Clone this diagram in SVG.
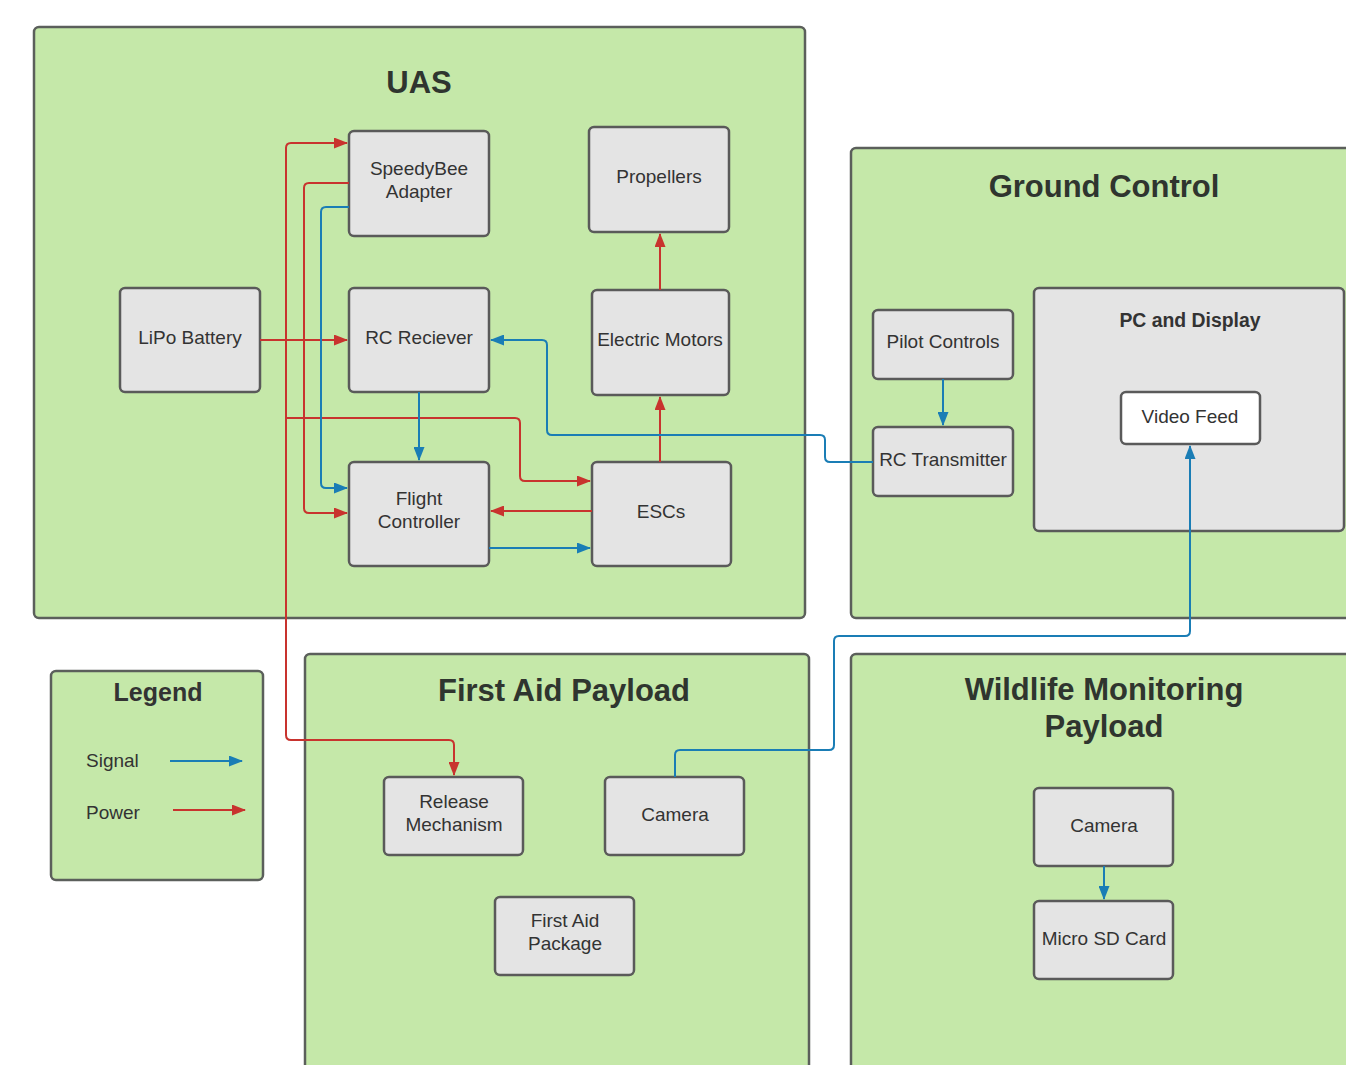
<svg xmlns="http://www.w3.org/2000/svg" width="1346" height="1065" viewBox="0 0 1346 1065">
<defs>
<style>
.grp{fill:#c5e8a9;stroke:#5b5f5b;stroke-width:2.5}
.nd{fill:#e4e4e4;stroke:#5a5a5a;stroke-width:2.5}
.wh{fill:#ffffff;stroke:#5a5a5a;stroke-width:2.5}
.t{font-family:"Liberation Sans",Arial,sans-serif;font-size:19px;fill:#333333;text-anchor:middle}
.h{font-family:"Liberation Sans",Arial,sans-serif;font-weight:bold;font-size:31px;fill:#2f352f;text-anchor:middle}
.hs{font-family:"Liberation Sans",Arial,sans-serif;font-weight:bold;font-size:19.4px;fill:#333333;text-anchor:middle}
.lt{font-family:"Liberation Sans",Arial,sans-serif;font-size:19px;fill:#333333}
.p{fill:none;stroke:#c8332e;stroke-width:2;marker-end:url(#ar)}
.s{fill:none;stroke:#1a7db5;stroke-width:2;marker-end:url(#ab)}
</style>
<marker id="ar" viewBox="0 0 14 11" refX="13" refY="5.5" markerWidth="14" markerHeight="11" markerUnits="userSpaceOnUse" orient="auto"><path d="M0,0 L14,5.5 L0,11 Z" fill="#c8332e"/></marker>
<marker id="ab" viewBox="0 0 14 11" refX="13" refY="5.5" markerWidth="14" markerHeight="11" markerUnits="userSpaceOnUse" orient="auto"><path d="M0,0 L14,5.5 L0,11 Z" fill="#1a7db5"/></marker>
</defs>
<rect width="1346" height="1065" fill="#ffffff"/>

<g id="uas"><rect class="grp" x="34" y="27" width="771" height="591" rx="5"/><text class="h" x="419" y="93">UAS</text></g>
<g id="ground-control"><rect class="grp" x="851" y="148" width="510" height="470" rx="5"/><text class="h" x="1104" y="197">Ground Control</text></g>
<g id="first-aid-payload"><rect class="grp" x="305" y="654" width="504" height="430" rx="5"/><text class="h" x="564" y="701">First Aid Payload</text></g>
<g id="wildlife-payload"><rect class="grp" x="851" y="654" width="510" height="430" rx="5"/><text class="h" x="1104" y="700">Wildlife Monitoring</text><text class="h" x="1104" y="737">Payload</text></g>
<g id="legend"><rect class="grp" x="51" y="671" width="212" height="209" rx="5"/><text class="hs" x="158" y="701" style="font-size:25px">Legend</text>
<text class="lt" x="86" y="767">Signal</text><text class="lt" x="86" y="819">Power</text>
<line class="s" x1="170" y1="761" x2="242" y2="761"/><line class="p" x1="173" y1="810" x2="245" y2="810"/></g>

<g id="speedybee"><rect class="nd" x="349" y="131" width="140" height="105" rx="5"/><text class="t" x="419" y="175">SpeedyBee</text><text class="t" x="419" y="198">Adapter</text></g>
<g id="propellers"><rect class="nd" x="589" y="127" width="140" height="105" rx="5"/><text class="t" x="659" y="183">Propellers</text></g>
<g id="lipo"><rect class="nd" x="120" y="288" width="140" height="104" rx="5"/><text class="t" x="190" y="344">LiPo Battery</text></g>
<g id="rc-reciever"><rect class="nd" x="349" y="288" width="140" height="104" rx="5"/><text class="t" x="419" y="344">RC Reciever</text></g>
<g id="electric-motors"><rect class="nd" x="592" y="290" width="137" height="105" rx="5"/><text class="t" x="660" y="346">Electric Motors</text></g>
<g id="flight-controller"><rect class="nd" x="349" y="462" width="140" height="104" rx="5"/><text class="t" x="419" y="505">Flight</text><text class="t" x="419" y="528">Controller</text></g>
<g id="escs"><rect class="nd" x="592" y="462" width="139" height="104" rx="5"/><text class="t" x="661" y="518">ESCs</text></g>
<g id="pilot-controls"><rect class="nd" x="873" y="310" width="140" height="69" rx="5"/><text class="t" x="943" y="348">Pilot Controls</text></g>
<g id="rc-transmitter"><rect class="nd" x="873" y="427" width="140" height="69" rx="5"/><text class="t" x="943" y="466">RC Transmitter</text></g>
<g id="pc-display"><rect class="nd" x="1034" y="288" width="310" height="243" rx="5"/><text class="hs" x="1190" y="327">PC and Display</text></g>
<g id="video-feed"><rect class="wh" x="1121" y="392" width="139" height="52" rx="5"/><text class="t" x="1190" y="423">Video Feed</text></g>
<g id="release-mechanism"><rect class="nd" x="384" y="777" width="139" height="78" rx="5"/><text class="t" x="454" y="808">Release</text><text class="t" x="454" y="831">Mechanism</text></g>
<g id="fa-camera"><rect class="nd" x="605" y="777" width="139" height="78" rx="5"/><text class="t" x="675" y="821">Camera</text></g>
<g id="first-aid-package"><rect class="nd" x="495" y="897" width="139" height="78" rx="5"/><text class="t" x="565" y="927">First Aid</text><text class="t" x="565" y="950">Package</text></g>
<g id="wm-camera"><rect class="nd" x="1034" y="788" width="139" height="78" rx="5"/><text class="t" x="1104" y="832">Camera</text></g>
<g id="micro-sd"><rect class="nd" x="1034" y="901" width="139" height="78" rx="5"/><text class="t" x="1104" y="945">Micro SD Card</text></g>

<g id="connectors">
<path class="p" d="M260,340 H347"/>
<path class="p" d="M286,340 V148 Q286,143 291,143 H347"/>
<path class="p" d="M286,340 V735 Q286,740 291,740 H449 Q454,740 454,745 V775"/>
<path class="p" d="M286,418 H515 Q520,418 520,423 V476 Q520,481 525,481 H590"/>
<path class="p" d="M349,183 H309 Q304,183 304,188 V508 Q304,513 309,513 H347"/>
<path class="s" d="M349,207 H326 Q321,207 321,212 V483 Q321,488 326,488 H347"/>
<path class="s" d="M419,392 V460"/>
<path class="p" d="M592,511 H491"/>
<path class="s" d="M489,548 H590"/>
<path class="p" d="M660,462 V397"/>
<path class="p" d="M660,290 V234"/>
<path class="s" d="M873,462 H830 Q825,462 825,457 V440 Q825,435 820,435 H552 Q547,435 547,430 V345 Q547,340 542,340 H491"/>
<path class="s" d="M943,379 V425"/>
<path class="s" d="M675,777 V755 Q675,750 680,750 H829 Q834,750 834,745 V641 Q834,636 839,636 H1185 Q1190,636 1190,631 V446"/>
<path class="s" d="M1104,866 V899"/>
</g>
</svg>
